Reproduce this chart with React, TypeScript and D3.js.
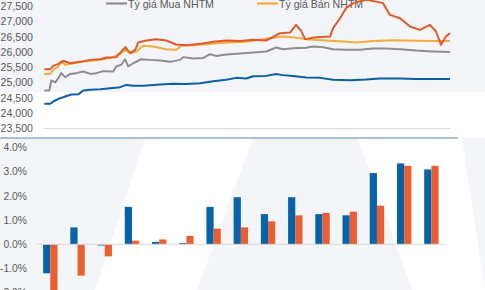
import React from "react";
import * as d3 from "d3";

// ---- Top chart: exchange rate series ([day, VND]) ----
const sbvRate: [number, number][] = [
  [0, 24310], [6, 24310], [9, 24385], [14, 24470], [21, 24550], [27, 24615], [34, 24620],
  [39, 24746], [46, 24770], [56, 24790], [66, 24820], [76, 24855], [82, 24930], [89, 24900],
  [99, 24900], [106, 24920], [116, 24940], [129, 24965], [142, 24960], [156, 24985],
  [169, 25050], [182, 25095], [192, 25160], [202, 25140], [209, 25215], [222, 25225],
  [232, 25290], [239, 25250], [249, 25225], [262, 25170], [276, 25160], [289, 25095],
  [306, 25085], [322, 25105], [336, 25140], [356, 25140], [372, 25120], [389, 25120], [406, 25120],
];
const buyRate: [number, number][] = [
  [0, 24745], [5, 24745], [7, 25075], [11, 25010], [14, 25150], [17, 25315], [21, 25180],
  [26, 25290], [32, 25315], [39, 25370], [46, 25290], [52, 25315], [59, 25380], [69, 25370],
  [72, 25535], [77, 25590], [81, 25770], [84, 25535], [89, 25640], [97, 25770], [106, 25750],
  [116, 25730], [126, 25685], [136, 25750], [139, 25840], [149, 25795], [159, 25815],
  [166, 25935], [172, 25880], [182, 25925], [196, 25960], [209, 25990], [222, 26025],
  [232, 26155], [239, 26100], [249, 26135], [262, 26145], [269, 26190], [279, 26165],
  [289, 26100], [302, 26080], [316, 26080], [329, 26120], [342, 26120], [356, 26100],
  [372, 26055], [389, 26025], [406, 26005],
];
const sellRate: [number, number][] = [
  [0, 25290], [6, 25290], [9, 25425], [14, 25535], [17, 25700], [21, 25590], [29, 25640],
  [39, 25700], [49, 25730], [59, 25770], [69, 25840], [76, 25950], [81, 26080], [86, 25970],
  [92, 26025], [99, 26210], [109, 26190], [122, 26100], [132, 26080], [137, 26210],
  [149, 26230], [162, 26265], [176, 26300], [189, 26330], [202, 26345], [216, 26410],
  [229, 26475], [239, 26515], [249, 26495], [262, 26430], [282, 26385], [299, 26350],
  [312, 26320], [329, 26365], [349, 26395], [372, 26375], [389, 26365], [406, 26365],
];
const freeRate: [number, number][] = [
  [0, 25445], [6, 25445], [9, 25555], [14, 25620], [19, 25720], [26, 25640], [36, 25685],
  [46, 25750], [56, 25770], [62, 25830], [72, 25840], [81, 26170], [86, 25970], [91, 26080],
  [94, 26320], [102, 26385], [112, 26430], [122, 26385], [132, 26255], [142, 26230],
  [156, 26275], [169, 26345], [182, 26385], [196, 26365], [209, 26410], [222, 26385],
  [236, 26625], [246, 26650], [252, 26900], [257, 26700], [261, 26430], [272, 26495],
  [286, 26515], [289, 26790], [296, 27115], [302, 27445], [309, 27610], [322, 27720],
  [332, 27660], [339, 27610], [346, 27225], [356, 27115], [366, 26845], [376, 26735],
  [386, 26900], [392, 26680], [397, 26245], [402, 26520], [406, 26625],
];
const topTicks = [23500, 24000, 24500, 25000, 25500, 26000, 26500, 27000, 27500];
const legendLabels = ["Tỷ giá Mua NHTM", "Tỷ giá Bán NHTM"];

// ---- Bottom chart: % change bars ----
const barGroups = d3.range(15);
const blueValues = [-1.2, 0.7, -0.05, 1.55, 0.1, 0.05, 1.55, 1.95, 1.25, 1.95, 1.25, 1.2, 2.95, 3.35, 3.1];
const orangeValues = [-2.4, -1.3, -0.5, 0.15, 0.2, 0.35, 0.65, 0.7, 0.95, 1.2, 1.3, 1.35, 1.6, 3.25, 3.25];
const bottomTicks = [-2, -1, 0, 1, 2, 3, 4];

const C_BLUE = "#0b5fa3";
const C_GRAY = "#8e8e8e";
const C_YELLOW = "#f4aa3c";
const C_RED = "#e2592a";
const C_BAR_BLUE = "#0862a8";
const C_BAR_ORANGE = "#e95f33";
const TXT = "#595959";
const FONT = "'Liberation Sans', Arial, sans-serif";

export default function App() {
  const W = 485, H = 290;
  const x = d3.scaleLinear().domain([0, 406]).range([44.3, 450]);
  const y = d3.scaleLinear().domain([23500, 27500]).range([128.5, 6.5]);
  const line = d3.line<[number, number]>().x(d => x(d[0])).y(d => y(d[1]));

  const yb = d3.scaleLinear().domain([0, 4]).range([244.3, 147.7]);
  const xb = d3.scaleBand<number>().domain(barGroups).range([36.7, 445]).paddingInner(0).paddingOuter(0);
  const barW = 7.2;

  const series: { data: [number, number][]; color: string }[] = [
    { data: sbvRate, color: C_BLUE },
    { data: buyRate, color: C_GRAY },
    { data: sellRate, color: C_YELLOW },
    { data: freeRate, color: C_RED },
  ];

  const fmtTop = d3.format(",");
  const fmtPct = (v: number) => d3.format(".1f")(v).replace("−", "-") + "%";

  return (
    <div style={{ position: "fixed", left: 0, top: 0, width: W, height: H, overflow: "hidden", background: "#fff" }}>
      <svg width={W} height={H} style={{ display: "block", fontFamily: FONT }}>
        {/* watermark background */}
        <rect x={0} y={0} width={W} height={H} fill="#ffffff" />
        <polygon points="0,0 485,0 485,92 0,92" fill="#f3f5f8" />
        <polygon points="0,138 145,138 95,290 0,290" fill="#f3f5f8" />
        <polygon points="253,138 358,138 412,290 197,290" fill="#f3f5f8" />
        <polygon points="462,138 485,138 485,290" fill="#f3f5f8" />

        {/* top chart */}
        <line x1={43.3} x2={450.7} y1={y(23500)} y2={y(23500)} stroke="#d9d9d9" strokeWidth={1} />
        {topTicks.map(t => (
          <text key={t} x={33} y={y(t)} dy="0.35em" textAnchor="end" fontSize={10.6} fill={TXT}>
            {fmtTop(t)}
          </text>
        ))}
        {/* legend */}
        <line x1={106} x2={127} y1={3.5} y2={3.5} stroke={C_GRAY} strokeWidth={2.2} />
        <text x={128} y={8} fontSize={10.6} fill={TXT}>{legendLabels[0]}</text>
        <line x1={257} x2={278} y1={3.5} y2={3.5} stroke={C_YELLOW} strokeWidth={2.2} />
        <text x={279} y={8} fontSize={10.6} fill={TXT}>{legendLabels[1]}</text>

        {series.map((s, i) => (
          <path key={i} d={line(s.data) || ""} fill="none" stroke={s.color} strokeWidth={2} strokeLinejoin="round" />
        ))}

        {/* separator */}
        <line x1={0} x2={458} y1={138} y2={138} stroke="#5a88b0" strokeWidth={1} />

        {/* bottom chart */}
        {bottomTicks.map(t => (
          <text key={t} x={27} y={yb(t)} dy="0.35em" textAnchor="end" fontSize={10.3} fill={TXT}>
            {fmtPct(t)}
          </text>
        ))}
        {barGroups.map(i => {
          const cx = (xb(i) as number) + xb.bandwidth() / 2;
          const b = blueValues[i], o = orangeValues[i];
          return (
            <g key={i}>
              <rect x={cx - barW} width={barW} y={Math.min(yb(b), yb(0))} height={Math.abs(yb(b) - yb(0))} fill={C_BAR_BLUE} />
              <rect x={cx} width={barW} y={Math.min(yb(o), yb(0))} height={Math.abs(yb(o) - yb(0))} fill={C_BAR_ORANGE} />
            </g>
          );
        })}
        <line x1={36.7} x2={445} y1={yb(0)} y2={yb(0)} stroke="#d9d9d9" strokeWidth={1} />
      </svg>
    </div>
  );
}
